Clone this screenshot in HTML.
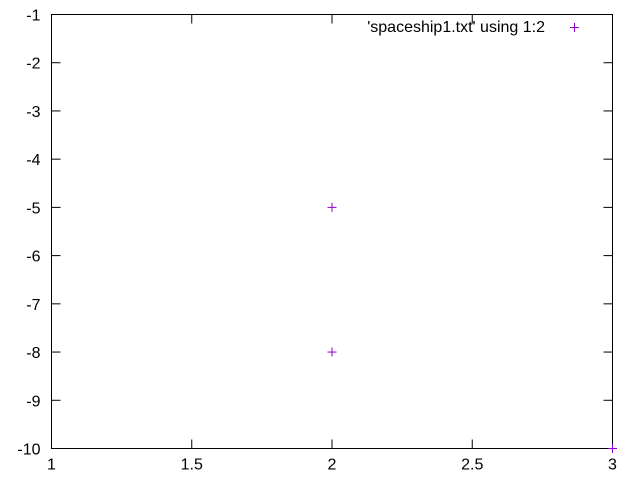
<!DOCTYPE html>
<html><head><meta charset="utf-8"><style>body{margin:0;background:#fff}svg{display:block;font-family:"Liberation Sans",sans-serif}</style></head>
<body>
<svg id="chart" width="640" height="480" xmlns="http://www.w3.org/2000/svg">
<rect width="640" height="480" fill="#fff"/>
<g id="axes"></g>
<g id="pts"></g>
<text x="545" y="32" text-anchor="end" font-size="16">'spaceship1.txt' using 1:2</text>
<g stroke="#9400d3" stroke-width="1">
<line x1="570" y1="27.5" x2="579" y2="27.5"/><line x1="574.5" y1="23" x2="574.5" y2="32"/></g>
</svg>
<script>
const xVals=[2,2,3];
const yVals=[-5,-8,-10];
const xTicks=[1,1.5,2,2.5,3];
const yTicks=[-1,-2,-3,-4,-5,-6,-7,-8,-9,-10];
const L=51.5,R=612.5,T=14.5,B=448.5;
const sx=v=>L+(v-1)/2*(R-L);
const sy=v=>T+(-1-v)/9*(B-T);
const NS="http://www.w3.org/2000/svg";
const ax=document.getElementById('axes'),pg=document.getElementById('pts');
function mk(tag,a,p){const e=document.createElementNS(NS,tag);for(const k in a)e.setAttribute(k,a[k]);p.appendChild(e);return e;}
const box=mk('rect',{x:L,y:T,width:R-L,height:B-T,fill:'none',stroke:'#000','stroke-width':1},ax);


xTicks.forEach(t=>{const x=sx(t);
mk('line',{x1:x,y1:B,x2:x,y2:B-9,stroke:'#000'},ax);
mk('line',{x1:x,y1:T,x2:x,y2:T+9,stroke:'#000'},ax);
const tx=mk('text',{x:x,y:B+21,'text-anchor':'middle','font-size':16},ax);tx.textContent=t;

});
yTicks.forEach(t=>{const y=sy(t);
mk('line',{x1:L,y1:y,x2:L+9,y2:y,stroke:'#000'},ax);
mk('line',{x1:R,y1:y,x2:R-9,y2:y,stroke:'#000'},ax);
const tx=mk('text',{x:L-11,y:y+6,'text-anchor':'end','font-size':16},ax);tx.textContent=t;

});
xVals.forEach((xv,i)=>{const x=sx(xv),y=sy(yVals[i]);
const g=mk('g',{stroke:'#9400d3','stroke-width':1},pg);


mk('line',{x1:x-4.5,y1:y,x2:x+4.5,y2:y},g);mk('line',{x1:x,y1:y-4.5,x2:x,y2:y+4.5},g);});
</script>
</body></html>
